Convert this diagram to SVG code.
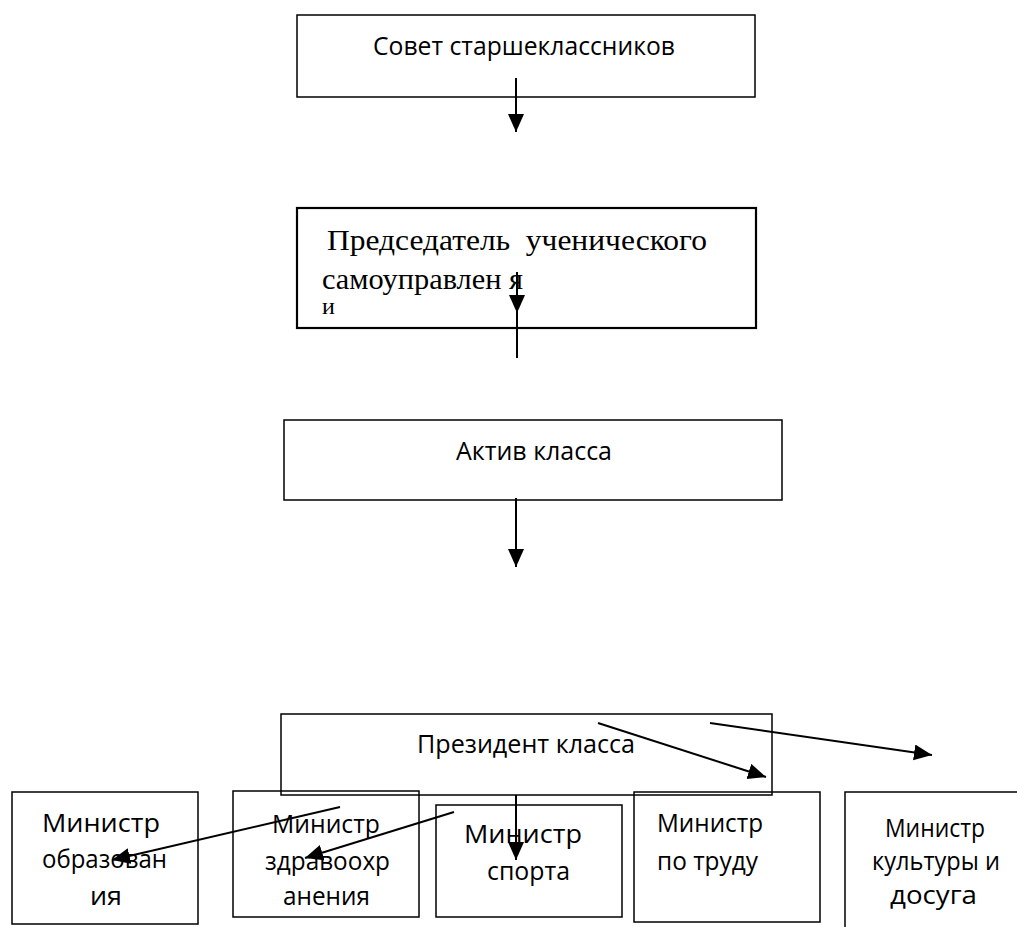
<svg xmlns="http://www.w3.org/2000/svg" width="1017" height="927" viewBox="0 0 1017 927">
<defs>
<style>
.box{fill:none;stroke:#000;stroke-width:1.5}
.bold{stroke-width:2.2}
.t{font-family:"Open Sans","Liberation Sans",sans-serif;font-size:25px;fill:#000}
.m{font-size:26px}
.s{font-family:"Liberation Serif","Times New Roman",serif;font-size:30px;fill:#000}
.c line{stroke:#000;stroke-width:2;marker-end:url(#ah)}
.c line.plain{marker-end:none}
</style>
<marker id="ah" markerUnits="userSpaceOnUse" markerWidth="19" markerHeight="17" refX="18" refY="8" orient="auto" viewBox="0 0 19 17">
<path d="M0,0 L18,8 L0,16 z" fill="#000"/>
</marker>
</defs>
<rect width="1017" height="927" fill="#fff"/>
<g id="n1">
<rect class="box" x="297" y="15" width="458" height="82"/>
<text class="t" x="373" y="55" textLength="302" lengthAdjust="spacingAndGlyphs">Совет старшеклассников</text>
</g>
<g id="n2">
<rect class="box bold" x="297" y="208" width="459" height="120"/>
<text class="s" x="327" y="250" textLength="380" lengthAdjust="spacingAndGlyphs" xml:space="preserve">Председатель  ученического</text>
<text class="s" x="322" y="289" textLength="201" lengthAdjust="spacingAndGlyphs" xml:space="preserve">самоуправлен я</text>
<text class="s" x="322" y="314" style="font-size:24px">и</text>
</g>
<g id="n3">
<rect class="box" x="284" y="420" width="498" height="80"/>
<text class="t" x="456" y="460" textLength="156" lengthAdjust="spacingAndGlyphs">Актив класса</text>
</g>
<g id="n4">
<rect class="box" x="281" y="714" width="491" height="81"/>
<text class="t" x="417" y="753" textLength="218" lengthAdjust="spacingAndGlyphs">Президент класса</text>
</g>
<g id="m1">
<rect class="box" x="12" y="792" width="186" height="132"/>
<text class="t m" x="42" y="832" textLength="118" lengthAdjust="spacingAndGlyphs">Министр</text>
<text class="t m" x="42" y="868" textLength="125" lengthAdjust="spacingAndGlyphs">образован</text>
<text class="t m" x="90" y="905" textLength="32" lengthAdjust="spacingAndGlyphs">ия</text>
</g>
<g id="m2">
<rect class="box" x="233" y="791" width="186" height="126"/>
<text class="t m" x="272" y="833" textLength="108" lengthAdjust="spacingAndGlyphs">Министр</text>
<text class="t m" x="265" y="870" textLength="125" lengthAdjust="spacingAndGlyphs">здравоохр</text>
<text class="t m" x="283" y="905" textLength="87" lengthAdjust="spacingAndGlyphs">анения</text>
</g>
<g id="m3">
<rect class="box" x="436" y="805" width="186" height="112"/>
<text class="t m" x="464" y="843" textLength="118" lengthAdjust="spacingAndGlyphs">Министр</text>
<text class="t m" x="487" y="880" textLength="83" lengthAdjust="spacingAndGlyphs">спорта</text>
</g>
<g id="m4">
<rect class="box" x="634" y="792" width="186" height="130"/>
<text class="t m" x="657" y="832" textLength="106" lengthAdjust="spacingAndGlyphs">Министр</text>
<text class="t m" x="657" y="870" textLength="101" lengthAdjust="spacingAndGlyphs">по труду</text>
</g>
<g id="m5">
<path class="box" d="M845,927 V792 H1017"/>
<text class="t m" x="885" y="837" textLength="100" lengthAdjust="spacingAndGlyphs">Министр</text>
<text class="t m" x="872" y="870" textLength="128" lengthAdjust="spacingAndGlyphs">культуры и</text>
<text class="t m" x="890" y="904" textLength="87" lengthAdjust="spacingAndGlyphs">досуга</text>
</g>
<g id="connectors" class="c">
<line x1="516" y1="78" x2="516" y2="132"/>
<line x1="517" y1="272" x2="517" y2="313"/>
<line class="plain" x1="517" y1="313" x2="517" y2="358"/>
<line x1="516" y1="498" x2="516" y2="567"/>
<line x1="598" y1="723" x2="766" y2="777"/>
<line x1="710" y1="723" x2="932" y2="755"/>
<line x1="340" y1="807" x2="112" y2="860"/>
<line x1="454" y1="812" x2="305" y2="858"/>
<line x1="516" y1="795" x2="516" y2="860"/>
</g>
</svg>
